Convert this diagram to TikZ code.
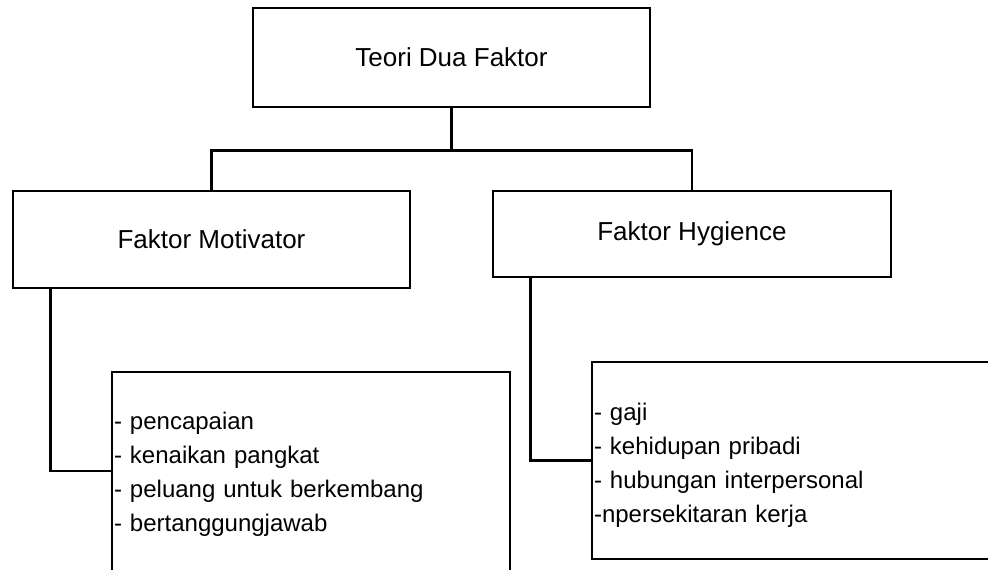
\documentclass[tikz,border=0pt]{standalone}
\usepackage{fontspec}
\setmainfont{Liberation Sans}
\usetikzlibrary{positioning}

\begin{document}
\begin{tikzpicture}[x=0.5pt,y=-0.5pt,line width=1.4pt,
  box/.style={draw=black,fill=white,inner sep=0pt,font=\fontsize{13}{15}\selectfont},
  list/.style={draw=black,fill=white,inner xsep=1pt,inner ysep=0pt,align=left,
               font=\fontsize{12}{17}\selectfont}]
\clip (0,0) rectangle (988,569);

% ---------------- the three headings
\node[box,minimum width=198.5pt,minimum height=49.5pt] (teori) at (451.5,57.5) {Teori Dua Faktor};
\node[box,minimum width=198.5pt,minimum height=48.5pt] (mot) at (211.5,239.5) {Faktor Motivator};
\node[box,minimum width=199pt,minimum height=43pt] (hyg) at (692,234) {Faktor Hygience};

% ---------------- the two lists
\node[list,minimum width=199pt,minimum height=102.5pt,text width=197pt] (motlist) at (311,474.5)
  {- pencapaian\\- kenaikan pangkat\\- peluang untuk berkembang\\- bertanggungjawab};
\node[list,minimum width=204pt,minimum height=98.5pt,text width=202pt] (hyglist) at (796,460.5)
  {\rule{0pt}{13.5pt}- gaji\\- kehidupan pribadi\\- hubungan interpersonal\\-npersekitaran kerja};

% ---------------- connectors
\coordinate (split) at ([yshift=-21pt]teori.south);
\draw (teori.south) -- (split) -| (mot.north);
\draw (split) -| (hyg.north);
\draw ([xshift=19.5pt]mot.south west) |- ([yshift=1.75pt]motlist.west);
\draw ([xshift=19.5pt]hyg.south west) |- (hyglist.west);
\end{tikzpicture}
\end{document}
